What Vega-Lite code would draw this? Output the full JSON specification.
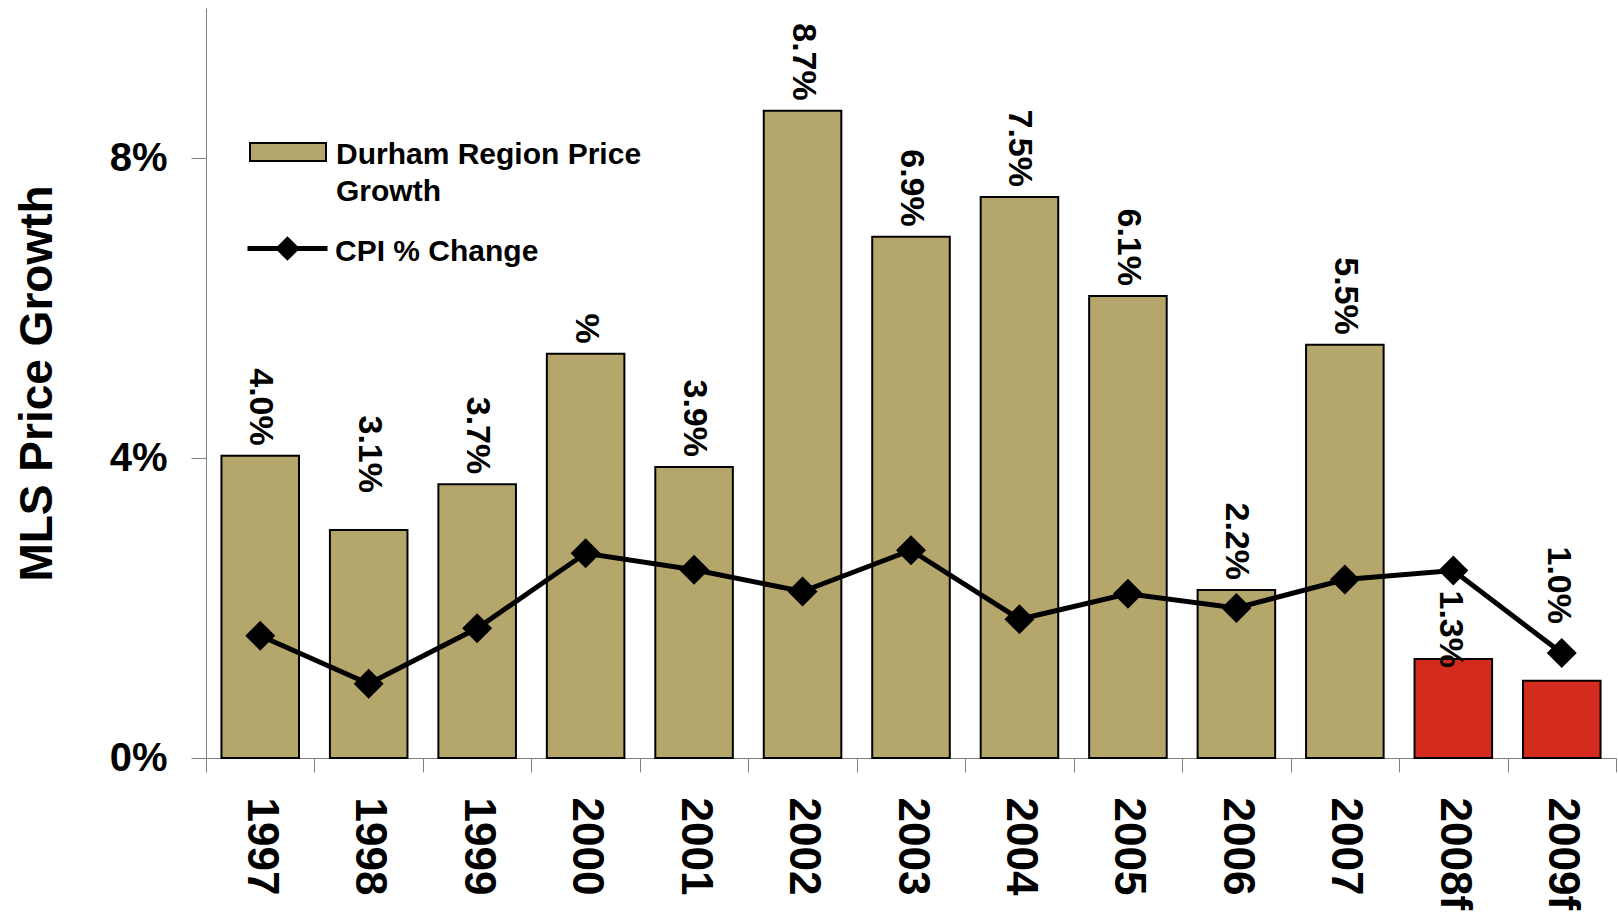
{
  "$schema": "https://vega.github.io/schema/vega-lite/v6.json",
  "width": 1410,
  "height": 750,
  "autosize": {"type": "none"},
  "padding": {"left": 206, "top": 8, "right": 2, "bottom": 160},
  "background": "white",
  "config": {
    "view": {"stroke": null},
    "font": "Liberation Sans",
    "style": {"guide-label": {"lineHeight": 37}}
  },
  "data": {
    "values": [
      {"year": "1997", "price": 4.03, "cpi": 1.63, "label": "4.0%", "series": "Durham Region Price Growth"},
      {"year": "1998", "price": 3.04, "cpi": 0.99, "label": "3.1%", "series": "Durham Region Price Growth"},
      {"year": "1999", "price": 3.65, "cpi": 1.73, "label": "3.7%", "series": "Durham Region Price Growth"},
      {"year": "2000", "price": 5.39, "cpi": 2.73, "label": "%", "series": "Durham Region Price Growth"},
      {"year": "2001", "price": 3.88, "cpi": 2.51, "label": "3.9%", "series": "Durham Region Price Growth"},
      {"year": "2002", "price": 8.63, "cpi": 2.22, "label": "8.7%", "series": "Durham Region Price Growth"},
      {"year": "2003", "price": 6.95, "cpi": 2.77, "label": "6.9%", "series": "Durham Region Price Growth"},
      {"year": "2004", "price": 7.48, "cpi": 1.85, "label": "7.5%", "series": "Durham Region Price Growth"},
      {"year": "2005", "price": 6.16, "cpi": 2.19, "label": "6.1%", "series": "Durham Region Price Growth"},
      {"year": "2006", "price": 2.24, "cpi": 2.0, "label": "2.2%", "series": "Durham Region Price Growth"},
      {"year": "2007", "price": 5.51, "cpi": 2.38, "label": "5.5%", "series": "Durham Region Price Growth"},
      {"year": "2008f", "price": 1.32, "cpi": 2.5, "label": "1.3%", "series": "Forecast"},
      {"year": "2009f", "price": 1.03, "cpi": 1.4, "label": "1.0%", "series": "Forecast"}
    ]
  },
  "encoding": {
    "x": {
      "field": "year",
      "type": "ordinal",
      "sort": null,
      "scale": {"paddingInner": 0, "paddingOuter": 0},
      "axis": {
        "title": null,
        "labelAngle": 90,
        "labelFontSize": 44,
        "labelFontWeight": "bold",
        "labelColor": "black",
        "tickBand": "extent",
        "tickSize": 14,
        "labelPadding": 25,
        "domainColor": "#808080",
        "tickColor": "#808080",
        "grid": false,
        "labelOverlap": false
      }
    }
  },
  "layer": [
    {
      "mark": {"type": "bar", "stroke": "black", "strokeWidth": 2, "width": {"band": 0.715}},
      "encoding": {
        "y": {
          "field": "price",
          "type": "quantitative",
          "title": "MLS Price Growth",
          "scale": {"domain": [0, 10]},
          "axis": {
            "values": [0, 4, 8],
            "labelExpr": "datum.value + '%'",
            "grid": false,
            "domainColor": "#808080",
            "tickColor": "#808080",
            "tickSize": 15,
            "labelFontSize": 40,
            "labelFontWeight": "bold",
            "labelColor": "black",
            "labelPadding": 24,
            "labelFlush": false,
            "titleFontSize": 46,
            "titleFontWeight": "bold",
            "titleColor": "black",
            "titlePadding": 48
          }
        },
        "fill": {
          "field": "series",
          "type": "nominal",
          "scale": {"domain": ["Durham Region Price Growth", "Forecast"], "range": ["#b5a76c", "#d42b1f"]},
          "legend": {
            "orient": "none",
            "legendX": 43,
            "legendY": 117,
            "title": null,
            "values": ["Durham Region Price Growth"],
            "symbolType": "M-1,-0.553L1,-0.553L1,-0.079L-1,-0.079Z",
            "symbolSize": 5776,
            "symbolStrokeColor": "black",
            "symbolStrokeWidth": 2,
            "labelFontSize": 30,
            "labelFontWeight": "bold",
            "labelColor": "black",
            "labelBaseline": "alphabetic",
            "labelExpr": "['Durham Region Price', 'Growth']",
            "labelOffset": 9,
            "labelLimit": 0,
            "padding": 0
          }
        }
      }
    },
    {
      "mark": {"type": "line", "strokeWidth": 5},
      "encoding": {
        "y": {"field": "cpi", "type": "quantitative", "title": "MLS Price Growth"},
        "stroke": {
          "datum": "CPI % Change",
          "type": "nominal",
          "scale": {"range": ["black"]},
          "legend": {
            "orient": "none",
            "legendX": 39,
            "legendY": 210,
            "title": null,
            "symbolType": "M-1,-0.3L1,-0.3M-0.22,-0.3L0,-0.52L0.22,-0.3L0,-0.08Z",
            "symbolSize": 6400,
            "symbolStrokeWidth": 5,
            "symbolFillColor": "black",
            "symbolStrokeColor": "black",
            "labelFontSize": 30,
            "labelFontWeight": "bold",
            "labelColor": "black",
            "labelBaseline": "alphabetic",
            "labelOffset": 5,
            "labelLimit": 0,
            "padding": 0
          }
        }
      }
    },
    {
      "mark": {"type": "point", "shape": "diamond", "size": 900, "filled": true, "color": "black", "opacity": 1},
      "encoding": {
        "y": {"field": "cpi", "type": "quantitative", "title": "MLS Price Growth"}
      }
    },
    {
      "transform": [{"filter": "indexof(['1998', '2008f', '2009f'], datum.year) < 0"}],
      "mark": {"type": "text", "angle": 90, "align": "right", "baseline": "middle", "dx": -10, "fontSize": 34, "fontWeight": "bold", "color": "black"},
      "encoding": {
        "y": {"field": "price", "type": "quantitative", "title": "MLS Price Growth"},
        "text": {"field": "label"}
      }
    },
    {
      "transform": [{"filter": "datum.year == '1998'"}],
      "mark": {"type": "text", "angle": 90, "align": "right", "baseline": "middle", "dx": -37, "fontSize": 34, "fontWeight": "bold", "color": "black"},
      "encoding": {
        "y": {"field": "price", "type": "quantitative", "title": "MLS Price Growth"},
        "text": {"field": "label"}
      }
    },
    {
      "transform": [{"filter": "datum.year == '2008f'"}],
      "mark": {"type": "text", "angle": 90, "align": "right", "baseline": "middle", "dx": 9, "dy": 3, "fontSize": 34, "fontWeight": "bold", "color": "black"},
      "encoding": {
        "y": {"field": "price", "type": "quantitative", "title": "MLS Price Growth"},
        "text": {"field": "label"}
      }
    },
    {
      "transform": [{"filter": "datum.year == '2009f'"}],
      "mark": {"type": "text", "angle": 90, "align": "right", "baseline": "middle", "dx": -29, "dy": 4, "fontSize": 34, "fontWeight": "bold", "color": "black"},
      "encoding": {
        "y": {"field": "cpi", "type": "quantitative", "title": "MLS Price Growth"},
        "text": {"field": "label"}
      }
    }
  ]
}
